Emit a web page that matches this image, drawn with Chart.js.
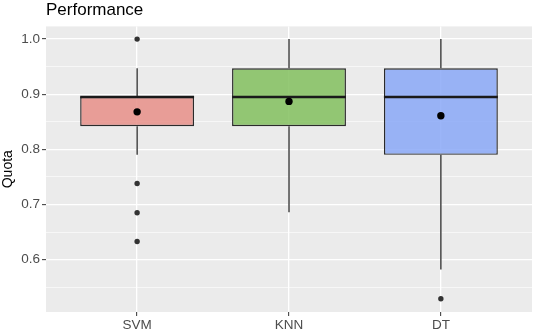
<!DOCTYPE html>
<html>
<head>
<meta charset="utf-8">
<script src="https://cdn.jsdelivr.net/npm/chart.js@4"></script>
<style>
  body { margin: 0; background: #fff; }
  #wrap { width: 536px; height: 331px; }
</style>
</head>
<body>
<div id="wrap"><canvas id="perf"></canvas></div>
<script>
// box plot stats
const categories = ["SVM", "KNN", "DT"];
const lowerWhisker = [0.790, 0.686, 0.582];
const q1 = [0.842, 0.842, 0.790];
const medians = [0.895, 0.895, 0.895];
const q3 = [0.895, 0.947, 0.947];
const upperWhisker = [0.947, 1.0, 1.0];
const means = [0.868, 0.887, 0.861];
const outliers = [[1.0, 0.738, 0.685, 0.633], [], [0.529]];
const yTicks = [0.55, 0.6, 0.65, 0.7, 0.75, 0.8, 0.85, 0.9, 0.95, 1.0];

const fills = ["rgba(231,143,136,0.85)", "rgba(130,191,94,0.85)", "rgba(137,168,247,0.85)"];
const isMajor = (v) => Math.abs(v * 10 - Math.round(v * 10)) < 1e-6;

const panelBg = {
  id: "panelBg",
  beforeDraw(chart) {
    const { ctx, chartArea: a } = chart;
    ctx.save();
    ctx.fillStyle = "#EBEBEB";
    ctx.fillRect(a.left, a.top, a.right - a.left, a.bottom - a.top);
    ctx.restore();
  },
};

// whiskers + median lines, drawn right after the boxes
const boxParts = {
  id: "boxParts",
  afterDatasetDraw(chart, args) {
    if (args.index !== 0) return;
    const { ctx } = chart;
    const xs = chart.scales.x, ys = chart.scales.y;
    const bars = args.meta.data;
    ctx.save();
    categories.forEach((c, i) => {
      const x = xs.getPixelForValue(i + 1);
      const hw = bars[i].width / 2;
      ctx.strokeStyle = "#2b2b2b";
      ctx.lineWidth = 1.3;
      ctx.beginPath();
      ctx.moveTo(x, ys.getPixelForValue(q3[i]));
      ctx.lineTo(x, ys.getPixelForValue(upperWhisker[i]));
      ctx.moveTo(x, ys.getPixelForValue(q1[i]));
      ctx.lineTo(x, ys.getPixelForValue(lowerWhisker[i]));
      ctx.stroke();
      ctx.strokeStyle = "#1a1a1a";
      ctx.lineWidth = 2.4;
      ctx.beginPath();
      ctx.moveTo(x - hw, ys.getPixelForValue(medians[i]));
      ctx.lineTo(x + hw, ys.getPixelForValue(medians[i]));
      ctx.stroke();
    });
    ctx.restore();
  },
};

const outlierPoints = [];
outliers.forEach((list, i) => list.forEach((v) => outlierPoints.push({ x: i + 1, y: v })));

new Chart(document.getElementById("perf"), {
  type: "bar",
  data: {
    datasets: [
      {
        label: "box",
        order: 3,
        data: categories.map((c, i) => ({ x: i + 1, y: [q1[i], q3[i]] })),
        backgroundColor: fills,
        borderColor: "#2b2b2b",
        borderWidth: 1.4,
        borderSkipped: false,
        barPercentage: 0.75,
        categoryPercentage: 1,
      },
      {
        label: "outliers",
        type: "line",
        order: 2,
        showLine: false,
        data: outlierPoints,
        pointRadius: 2.7,
        pointBackgroundColor: "#333",
        pointBorderWidth: 0,
      },
      {
        label: "mean",
        type: "line",
        order: 1,
        showLine: false,
        data: means.map((m, i) => ({ x: i + 1, y: m })),
        pointRadius: 3.7,
        pointBackgroundColor: "#000",
        pointBorderWidth: 0,
      },
    ],
  },
  options: {
    responsive: true,
    maintainAspectRatio: false,
    animation: false,
    layout: { padding: { left: 0, right: 3, top: 0, bottom: 0 } },
    plugins: {
      legend: { display: false },
      tooltip: { enabled: false },
      title: {
        display: true,
        text: "Performance",
        align: "start",
        fullSize: false,
        color: "#000",
        font: { family: "Liberation Sans", size: 17, weight: "normal" },
        padding: { top: 0, bottom: 6 },
      },
    },
    scales: {
      x: {
        type: "linear",
        offset: false,
        min: 0.4,
        max: 3.6,
        afterBuildTicks: (s) => { s.ticks = categories.map((c, i) => ({ value: i + 1 })); },
        afterFit: (s) => { s.height = 19; },
        border: { display: false },
        grid: { offset: false, color: "#fff", lineWidth: 1.3, tickColor: "#333", tickLength: 4, tickWidth: 1 },
        ticks: {
          callback: (v) => categories[v - 1],
          color: "#4D4D4D",
          padding: 1,
          maxRotation: 0,
          font: { family: "Liberation Sans", size: 13.5 },
        },
      },
      y: {
        min: 0.505,
        max: 1.023,
        afterBuildTicks: (s) => { s.ticks = yTicks.map((v) => ({ value: v })); },
        afterFit: (s) => { s.width = 46; },
        border: { display: false },
        grid: {
          color: "#fff",
          lineWidth: (ctx) => (ctx.tick && isMajor(ctx.tick.value) ? 1.3 : 0.6),
          tickColor: (ctx) => (ctx.tick && isMajor(ctx.tick.value) ? "#333" : "rgba(0,0,0,0)"),
          tickLength: 4,
          tickWidth: 1,
        },
        ticks: {
          callback: (v) => (isMajor(v) ? v.toFixed(1) : ""),
          color: "#4D4D4D",
          padding: 2,
          font: { family: "Liberation Sans", size: 13.5 },
        },
        title: {
          display: true,
          text: "Quota",
          color: "#000",
          padding: 0,
          font: { family: "Liberation Sans", size: 14 },
        },
      },
    },
  },
  plugins: [panelBg, boxParts],
});
</script>
</body>
</html>
